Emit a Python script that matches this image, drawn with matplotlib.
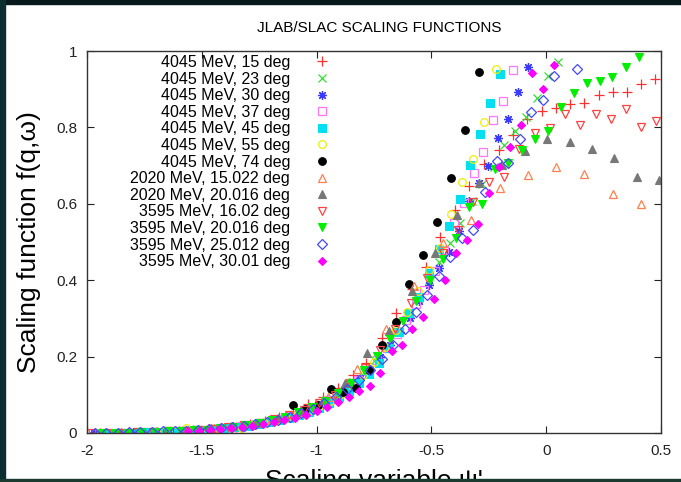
import matplotlib
matplotlib.use("Agg")
import matplotlib.pyplot as plt
from matplotlib.patches import Rectangle

plt.rcParams['font.family'] = ['Liberation Sans', 'DejaVu Sans']

title = "JLAB/SLAC SCALING FUNCTIONS"
xlabel = "Scaling variable \u03c8'"
ylabel = "Scaling function f(q,\u03c9)"
xticks = [-2, -1.5, -1, -0.5, 0, 0.5]
xticklabels = ["-2", "-1.5", "-1", "-0.5", "0", "0.5"]
yticks = [0, 0.2, 0.4, 0.6, 0.8, 1]
yticklabels = ["0", "0.2", "0.4", "0.6", "0.8", "1"]

labels = ["4045 MeV, 15 deg", "4045 MeV, 23 deg", "4045 MeV, 30 deg", "4045 MeV, 37 deg",
          "4045 MeV, 45 deg", "4045 MeV, 55 deg", "4045 MeV, 74 deg", "2020 MeV, 15.022 deg",
          "2020 MeV, 20.016 deg", "3595 MeV, 16.02 deg", "3595 MeV, 20.016 deg",
          "3595 MeV, 25.012 deg", "3595 MeV, 30.01 deg"]

pts_4045_15 = [(0.474,0.926),(0.413,0.914),(0.352,0.892),(0.290,0.893),(0.229,0.885),(0.166,0.865),
    (0.105,0.861),(0.043,0.851),(-0.020,0.843),(-0.084,0.821),(-0.145,0.780),(-0.206,0.741),
    (-0.272,0.703),(-0.335,0.647),(-0.399,0.585),(-0.461,0.512),(-0.525,0.435),(-0.583,0.376),
    (-0.654,0.313),(-0.716,0.248),(-0.786,0.184),(-0.843,0.151),(-0.908,0.118),(-0.973,0.095),
    (-1.036,0.075),(-1.101,0.055),(-1.163,0.041),(-1.225,0.031),(-1.288,0.023),(-1.350,0.017),
    (-1.412,0.013),(-1.475,0.010),(-1.537,0.007),(-1.600,0.005)]
pts_4045_23 = [(0.050,0.972),(0.006,0.935),(-0.040,0.876),(-0.089,0.826),(-0.136,0.791),(-0.184,0.754),
    (-0.229,0.697),(-0.278,0.652),(-0.325,0.607),(-0.374,0.551),(-0.420,0.497),(-0.466,0.448),
    (-0.512,0.400),(-0.558,0.352),(-0.606,0.308),(-0.652,0.266),(-0.700,0.226),(-0.746,0.192),
    (-0.793,0.160),(-0.840,0.133),(-0.886,0.110),(-0.933,0.091),(-0.980,0.075),(-1.027,0.061),
    (-1.074,0.050),(-1.120,0.042),(-1.168,0.035),(-1.215,0.029),(-1.262,0.024),(-1.310,0.020),
    (-1.356,0.017),(-1.403,0.014),(-1.450,0.011),(-1.497,0.009),(-1.544,0.007),(-1.590,0.005),
    (-1.638,0.004),(-1.685,0.003),(-1.732,0.002),(-1.779,0.002),(-1.826,0.001),(-1.873,0.001),
    (-1.920,0.001)]
pts_4045_30 = [(-0.079,0.959),(-0.123,0.892),(-0.166,0.823),(-0.209,0.773),(-0.252,0.700),(-0.293,0.654),
    (-0.336,0.607),(-0.381,0.529),(-0.423,0.473),(-0.466,0.433),(-0.509,0.388),(-0.552,0.345),
    (-0.595,0.302),(-0.638,0.265),(-0.681,0.230),(-0.724,0.198),(-0.767,0.168),(-0.810,0.143),
    (-0.853,0.121),(-0.896,0.102),(-0.939,0.087),(-0.982,0.073),(-1.025,0.062),(-1.068,0.052),
    (-1.111,0.044),(-1.154,0.037),(-1.197,0.031),(-1.240,0.026),(-1.283,0.022),(-1.326,0.018),
    (-1.369,0.015),(-1.412,0.013),(-1.455,0.010),(-1.498,0.008),(-1.541,0.007),(-1.584,0.005),
    (-1.627,0.004),(-1.670,0.003),(-1.713,0.003),(-1.756,0.002),(-1.799,0.002),(-1.842,0.001),
    (-1.885,0.001),(-1.928,0.001),(-1.971,0.000)]
pts_4045_37 = [(-0.146,0.950),(-0.188,0.870),(-0.230,0.819),(-0.274,0.736),(-0.316,0.681),(-0.358,0.601),
    (-0.402,0.549),(-0.443,0.479),(-0.484,0.425),(-0.531,0.374),(-0.568,0.338),(-0.610,0.296),
    (-0.652,0.258),(-0.694,0.222),(-0.736,0.191),(-0.778,0.163),(-0.820,0.140),(-0.862,0.119),
    (-0.904,0.101),(-0.946,0.086),(-0.988,0.073),(-1.030,0.062),(-1.072,0.052),(-1.114,0.044),
    (-1.156,0.037),(-1.198,0.031),(-1.240,0.026),(-1.282,0.022),(-1.324,0.018),(-1.366,0.015),
    (-1.408,0.012),(-1.450,0.010),(-1.492,0.008),(-1.534,0.006),(-1.576,0.005),(-1.618,0.004),
    (-1.660,0.003),(-1.702,0.002),(-1.744,0.002)]
pts_4045_45 = [(-0.200,0.939),(-0.243,0.865),(-0.288,0.782),(-0.333,0.702),(-0.377,0.613),(-0.422,0.541),
    (-0.466,0.482),(-0.510,0.418),(-0.553,0.357),(-0.597,0.315),(-0.640,0.265),(-0.684,0.222),
    (-0.727,0.182),(-0.771,0.155),(-0.815,0.130),(-0.858,0.110),(-0.902,0.093),(-0.946,0.078),
    (-0.990,0.066),(-1.033,0.056),(-1.077,0.047),(-1.120,0.040),(-1.164,0.033),(-1.208,0.028),
    (-1.252,0.023),(-1.296,0.019),(-1.340,0.016),(-1.384,0.013),(-1.428,0.011),(-1.472,0.009),
    (-1.516,0.007),(-1.560,0.006),(-1.604,0.005),(-1.648,0.004),(-1.692,0.003),(-1.736,0.002),
    (-1.780,0.002),(-1.824,0.001),(-1.868,0.001),(-1.912,0.001)]
pts_4045_55 = [(-0.220,0.952),(-0.272,0.815),(-0.319,0.718),(-0.367,0.656),(-0.415,0.573),(-0.463,0.484),
    (-0.511,0.428),(-0.559,0.372),(-0.607,0.318),(-0.655,0.270),(-0.703,0.226),(-0.751,0.186),
    (-0.799,0.153),(-0.847,0.125),(-0.895,0.103),(-0.943,0.085),(-0.991,0.070),(-1.039,0.058),
    (-1.087,0.047),(-1.135,0.038),(-1.183,0.031),(-1.231,0.025),(-1.279,0.020),(-1.327,0.012),
    (-1.375,0.013),(-1.423,0.008),(-1.471,0.010),(-1.519,0.006),(-1.567,0.014),(-1.615,0.005),
    (-1.663,0.004)]
pts_4045_74 = [(-1.104,0.073),(-1.049,0.063),(-0.996,0.072),(-0.939,0.115),(-0.884,0.107),(-0.828,0.119),
    (-0.770,0.164),(-0.714,0.231),(-0.653,0.291),(-0.596,0.391),(-0.535,0.466),(-0.477,0.552),
    (-0.416,0.667),(-0.355,0.794),(-0.293,0.945)]
pts_2020_15 = [(0.412,0.600),(0.290,0.626),(0.166,0.677),(0.044,0.697),(-0.079,0.675),(-0.203,0.642),
    (-0.326,0.558),(-0.451,0.497),(-0.576,0.385),(-0.699,0.272),(-0.824,0.168),(-0.949,0.095),
    (-1.074,0.056),(-1.198,0.034),(-1.322,0.022),(-1.446,0.014),(-1.570,0.008),(-1.694,0.005),
    (-1.818,0.003),(-1.942,0.002)]
pts_2020_20 = [(0.493,0.662),(0.396,0.671),(0.297,0.719),(0.199,0.743),(0.102,0.763),(0.004,0.769),
    (-0.094,0.738),(-0.193,0.702),(-0.291,0.654),(-0.389,0.571),(-0.486,0.470),(-0.584,0.372),
    (-0.683,0.267),(-0.780,0.209),(-0.876,0.130),(-0.973,0.087),(-1.070,0.058),(-1.168,0.040),
    (-1.266,0.027),(-1.363,0.018),(-1.460,0.012),(-1.558,0.008),(-1.656,0.005),(-1.753,0.003),
    (-1.851,0.002),(-1.948,0.001)]
pts_3595_16 = [(0.478,0.817),(0.413,0.802),(0.348,0.847),(0.281,0.821),(0.215,0.834),(0.149,0.806),
    (0.083,0.836),(0.017,0.798),(-0.049,0.786),(-0.117,0.744),(-0.184,0.671),(-0.250,0.656),
    (-0.317,0.604),(-0.384,0.531),(-0.450,0.470),(-0.520,0.405),(-0.589,0.340),(-0.659,0.272),
    (-0.724,0.216),(-0.789,0.169),(-0.856,0.130),(-0.922,0.100),(-0.988,0.078),(-1.054,0.060),
    (-1.120,0.047),(-1.186,0.036),(-1.252,0.027),(-1.318,0.020),(-1.384,0.015),(-1.450,0.011),
    (-1.516,0.008),(-1.582,0.006),(-1.648,0.004),(-1.714,0.003),(-1.780,0.002),(-1.846,0.001),
    (-1.912,0.001),(-1.978,0.000)]
pts_3595_20 = [(0.405,0.984),(0.348,0.957),(0.288,0.931),(0.233,0.921),(0.176,0.916),(0.121,0.891),
    (0.064,0.853),(0.008,0.790),(-0.050,0.770),(-0.107,0.741),(-0.165,0.706),(-0.223,0.691),
    (-0.278,0.600),(-0.335,0.591),(-0.394,0.510),(-0.451,0.456),(-0.508,0.400),(-0.565,0.345),
    (-0.622,0.292),(-0.680,0.245),(-0.737,0.201),(-0.794,0.165),(-0.851,0.132),(-0.908,0.106),
    (-0.965,0.085),(-1.022,0.068),(-1.079,0.054),(-1.136,0.043),(-1.193,0.034),(-1.250,0.027),
    (-1.307,0.021),(-1.364,0.016),(-1.421,0.012),(-1.478,0.009),(-1.535,0.007),(-1.592,0.005),
    (-1.649,0.004),(-1.706,0.003),(-1.763,0.002),(-1.820,0.001),(-1.877,0.001),(-1.934,0.000)]
pts_3595_25 = [(0.134,0.952),(0.035,0.935),(-0.014,0.873),(-0.066,0.840),(-0.115,0.770),(-0.168,0.708),
    (-0.216,0.711),(-0.265,0.632),(-0.318,0.531),(-0.367,0.511),(-0.418,0.462),(-0.468,0.410),
    (-0.517,0.362),(-0.567,0.318),(-0.617,0.272),(-0.667,0.231),(-0.717,0.195),(-0.767,0.165),
    (-0.817,0.138),(-0.867,0.115),(-0.917,0.095),(-0.967,0.078),(-1.017,0.064),(-1.067,0.052),
    (-1.117,0.043),(-1.167,0.035),(-1.217,0.029),(-1.267,0.024),(-1.317,0.019),(-1.367,0.016),
    (-1.417,0.013),(-1.467,0.010),(-1.517,0.008),(-1.567,0.006),(-1.617,0.005),(-1.667,0.004),
    (-1.717,0.003),(-1.767,0.002),(-1.817,0.002),(-1.867,0.001),(-1.917,0.001),(-1.967,0.000)]
pts_3595_30 = [(0.033,0.963),(-0.014,0.901),(-0.061,0.942),(-0.108,0.806),(-0.156,0.749),(-0.204,0.696),
    (-0.250,0.627),(-0.298,0.547),(-0.346,0.505),(-0.394,0.470),(-0.439,0.400),(-0.487,0.351),
    (-0.538,0.304),(-0.583,0.273),(-0.628,0.231),(-0.672,0.215),(-0.723,0.158),(-0.767,0.123),
    (-0.814,0.110),(-0.860,0.095),(-0.907,0.080),(-0.953,0.068),(-1.000,0.057),(-1.046,0.048),
    (-1.093,0.040),(-1.140,0.034),(-1.186,0.028),(-1.233,0.023),(-1.280,0.019),(-1.326,0.016),
    (-1.373,0.013),(-1.420,0.010),(-1.466,0.008),(-1.513,0.006),(-1.560,0.005)]

series = [pts_4045_15, pts_4045_23, pts_4045_30, pts_4045_37, pts_4045_45, pts_4045_55, pts_4045_74,
          pts_2020_15, pts_2020_20, pts_3595_16, pts_3595_20, pts_3595_25, pts_3595_30]

# style: (marker, color, filled, size)
styles = [
    ('+', '#ff3030', False, 6.5),
    ('x', '#33dd33', False, 5.5),
    ((8, 2, 0), '#3a3aff', False, 6.5),
    ('s', '#ff77ff', False, 5.5),
    ('s', '#00e0f0', True, 5.5),
    ('o', '#eeee00', False, 5.5),
    ('o', '#000000', True, 5.5),
    ('^', '#ff7f50', False, 5.5),
    ('^', '#777777', True, 5.5),
    ('v', '#ff4040', False, 5.5),
    ('v', '#00ee00', True, 5.5),
    ('D', '#4646ff', False, 4.8),
    ('D', '#ff00ff', True, 4.0),
]

fig = plt.figure(figsize=(6.81, 4.82), dpi=100)
ax = fig.add_axes([87/681, 1-433/482, (661-87)/681, (433-51)/482])

handles = []
for pts, (mk, col, filled, ms), lab in zip(series, styles, labels):
    xs = [p[0] for p in pts]
    ys = [p[1] for p in pts]
    if filled:
        h, = ax.plot(xs, ys, linestyle='none', marker=mk, ms=ms, mfc=col, mec=col, mew=0.8, label=lab)
    else:
        h, = ax.plot(xs, ys, linestyle='none', marker=mk, ms=ms, mfc='none', mec=col, mew=0.9, label=lab)
    handles.append(h)

ax.set_xlim(-2, 0.5)
ax.set_ylim(0, 1)
ax.set_xticks(xticks)
ax.set_xticklabels(xticklabels)
ax.set_yticks(yticks)
ax.set_yticklabels(yticklabels)
ax.tick_params(direction='in', length=5, width=0.8, top=True, right=True, labelsize=11, colors='#222222')
ax.tick_params(axis='x', pad=8)
ax.tick_params(axis='y', pad=7)
for s in ax.spines.values():
    s.set_linewidth(1.0)
    s.set_color('#333333')

ax.set_title(title, fontsize=11, pad=14, x=0.51)
ax.set_xlabel(xlabel, fontsize=19, labelpad=8)
ax.set_ylabel(ylabel, fontsize=19, labelpad=11)

leg = ax.legend(handles=handles, labels=labels, loc='upper right', bbox_to_anchor=(0.4233, 0.9895),
                markerfirst=False, frameon=False, fontsize=11.5, handlelength=1.0,
                handletextpad=1.5, labelspacing=0.1, borderpad=0, borderaxespad=0, numpoints=1)

# dark screen border
fig.add_artist(Rectangle((0, 1-4/482), 1, 4/482, transform=fig.transFigure, color='#07191b', zorder=10))
fig.add_artist(Rectangle((0, 0), 5/681, 1, transform=fig.transFigure, color='#0c2e30', zorder=10))
fig.add_artist(Rectangle((0, 0), 1, 3/482, transform=fig.transFigure, color='#1b3a30', zorder=10))

fig.savefig('out.png', dpi=100)
